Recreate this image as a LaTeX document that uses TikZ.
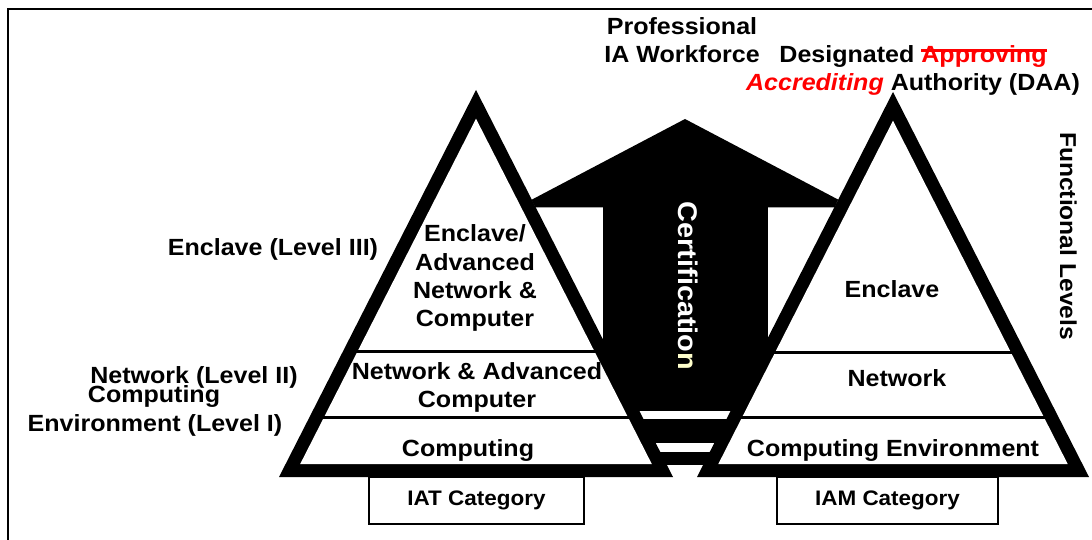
\documentclass[tikz,border=0pt]{standalone}
\usepackage{fontspec}
\setmainfont{Liberation Sans}[FakeStretch=1.07]
\definecolor{paleyellow}{RGB}{255,255,204}
\newcommand\strk[1]{\setbox0\hbox{#1}\rlap{\rule[11.3pt]{\wd0}{2.4pt}}\box0}
\begin{document}
\begin{tikzpicture}[x=1pt,y=-1pt,
  lbl/.style={font=\bfseries\fontsize{23.4}{28.3}\selectfont, inner sep=0pt, anchor=base},
  catbox/.style={draw, line width=2pt, inner sep=0pt, font=\bfseries\fontsize{21}{25}\selectfont},
  divider/.style={line width=3pt},
  frameline/.style={line width=2pt}]
\useasboundingbox (0,0) rectangle (1092,540);
% frame
\coordinate (fbl) at (7.7,540);
\coordinate (ftl) at (7.7,9.5);
\coordinate (ftr) at (1092,9.5);
\draw[frameline] (fbl) -- (ftl) -- (ftr);
% certification arrow (under the triangles)
\fill (685,119) -- (531.5,199.8) -- (535.6,207.5) -- (834.5,207.5) -- (838.2,199.6) -- cycle;
\fill (603,206) rectangle (768,411);
\fill (603,419) rectangle (768,443);
\fill (603,452) rectangle (768,465);
% left triangle (IAT)
\fill (279,477) -- (476,90) -- (673,477) -- cycle;
\fill[white] (300.2,464) -- (476,118.7) -- (651.8,464) -- cycle;
\draw[divider] (355,351) -- (597,351);
\draw[divider] (321,417) -- (631,417);
% right triangle (IAM)
\fill (697,477) -- (893,92) -- (1089,477) -- cycle;
\fill[white] (718.3,464) -- (893,120.7) -- (1067.7,464) -- cycle;
\draw[divider] (772,352) -- (1014,352);
\draw[divider] (739,417) -- (1047,417);
% category boxes
\node[catbox, minimum width=215pt, minimum height=47pt] (iat) at (476.5,500) {IAT Category};
\node[catbox, minimum width=221pt, minimum height=47pt] (iam) at (887.5,500) {IAM Category};
% top texts
\node[lbl] (prof) at (682,35) {Professional};
\node[lbl] (workforce) at (682,63) {IA Workforce};
\node[lbl] (daa1) at (913,63) {Designated {\color{red}\strk{Approving}}};
\node[lbl] (daa2) at (913,91) {{\color{red}\itshape Accrediting} Authority (DAA)};
\node[lbl, font=\bfseries\fontsize{23}{28}\selectfont, rotate=-90] (func) at (1060,236) {Functional Levels};
\node[lbl, font=\bfseries\fontsize{27}{30}\selectfont, text=white, rotate=-90] (cert) at (678,286) {Certificatio\textcolor{paleyellow}{n}};
% left level labels
\node[lbl] (lvl3) at (273,255) {Enclave (Level III)};
\node[lbl] (lvl2) at (194,383) {Network (Level II)};
\node[lbl] (lvl1a) at (154,402) {Computing};
\node[lbl] (lvl1b) at (155,431) {Environment (Level I)};
% left triangle texts
\node[lbl] (ta) at (475,241.7) {Enclave/};
\node[lbl] (tb) at (475,270) {Advanced};
\node[lbl] (tc) at (475,298.3) {Network \&};
\node[lbl] (td) at (475,326.7) {Computer};
\node[lbl] (te) at (477,379) {Network \& Advanced};
\node[lbl] (tf) at (477,407) {Computer};
\node[lbl] (tg) at (468,456) {Computing};
% right triangle texts
\node[lbl] (ra) at (892,297) {Enclave};
\node[lbl] (rb) at (897,386) {Network};
\node[lbl] (rc) at (893,456) {Computing Environment};
\end{tikzpicture}
\end{document}
